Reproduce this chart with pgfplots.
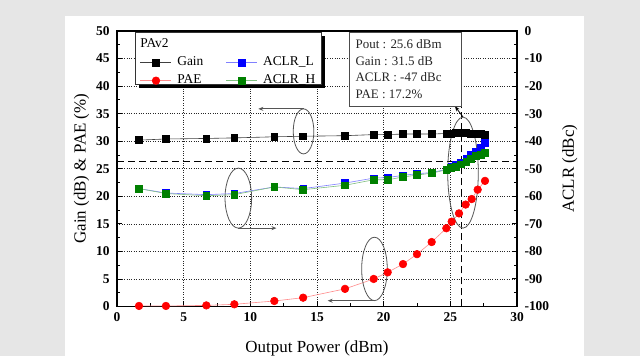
\documentclass[border=0pt]{standalone}
\usepackage{fontspec}
\setmainfont{Liberation Serif}
\usepackage{pgfplots}
\usepackage{pgfplotstable}
\pgfplotsset{compat=1.18}
\usetikzlibrary{arrows.meta}

\definecolor{bggray}{HTML}{E6E6E6}
\definecolor{aclrgreen}{RGB}{0,128,0}
\definecolor{annot}{HTML}{555555}

\pgfplotstableread{
x gain
1.65 30.2
3.67 30.4
6.7 30.5
8.8 30.6
11.8 30.8
13.96 30.9
17.1 31.0
19.25 31.2
20.3 31.2
21.45 31.3
22.5 31.3
23.6 31.3
24.7 31.4
25.06 31.4
25.4 31.5
25.8 31.5
26.2 31.5
26.55 31.4
26.9 31.4
27.3 31.3
27.6 31.2
}\gainT

\pgfplotstableread{
x pae
1.65 0.1
3.67 0.1
6.7 0.2
8.8 0.4
11.8 1.0
13.96 1.6
17.1 3.2
19.25 5.0
20.3 6.2
21.45 7.7
22.5 9.5
23.6 11.7
24.7 14.2
25.1 15.4
25.65 16.9
26.15 18.5
26.6 19.5
27.05 21.2
27.6 22.8
}\paeT

\pgfplotstableread{
x L H
1.65 -57.2 -57.2
3.67 -58.8 -59.0
6.7 -59.4 -59.8
8.8 -59.0 -59.4
11.8 -56.6 -56.6
13.96 -57.2 -57.6
17.1 -55.2 -56.0
19.25 -53.4 -54.0
20.3 -53.2 -54.0
21.45 -52.4 -53.0
22.5 -51.8 -52.3
23.6 -51.4 -51.6
24.7 -50.2 -50.4
25.06 -49.4 -49.8
25.4 -48.6 -49.2
25.8 -47.6 -48.4
26.2 -46.4 -47.4
26.55 -45.0 -46.4
26.9 -43.6 -45.4
27.3 -42.2 -44.8
27.6 -40.6 -44.2
}\aclrT

\pgfplotsset{
  common/.style={
    width=400bp, height=275.5bp, scale only axis,
    at={(117bp,49.5bp)}, anchor=south west,
    xmin=0, xmax=30,
    /pgf/number format/assume math mode=true,
    tick align=inside, major tick length=5bp, minor tick length=3bp,
    tick style={black, line width=0.9bp},
    axis line style={line width=1.6bp},
    ticklabel style={font=\fontsize{13.5}{14}\selectfont\bfseries},
    label style={font=\fontsize{17}{18}\selectfont},
  },
  gainsty/.style={black!75, line width=0.6bp, mark=square*, mark size=3.4bp, mark options={fill=black, draw=black}},
  paesty/.style={red!45, line width=0.6bp, mark=*, mark size=3.8bp, mark options={fill=red, draw=red}},
  lsty/.style={blue!50, line width=0.6bp, mark=square*, mark size=3.3bp, mark options={fill=blue, draw=blue}},
  hsty/.style={aclrgreen!50, line width=0.6bp, mark=square*, mark size=3.4bp, mark options={fill=aclrgreen, draw=aclrgreen}},
}

\begin{document}
\begin{tikzpicture}
\useasboundingbox (0,0) rectangle (640bp,356bp);
\fill[bggray] (0,0) rectangle (640bp,356bp);
\fill[white] (65bp,0) rectangle (584bp,340bp);

\begin{axis}[common,
  ymin=0, ymax=50,
  xtick={0,5,...,30}, ytick={0,5,...,50},
  minor x tick num=1, minor y tick num=1,
  xtick pos=left, ytick pos=left,
  yticklabel style={xshift=-4bp}, xticklabel style={yshift=-3bp},
  grid=major, grid style={dotted, black!85, line width=0.7bp},
  xlabel={Output Power (dBm)},
  xlabel style={yshift=-12bp},
  ylabel={Gain (dB) \& PAE (\%)},
  legend columns=2,
  legend cell align=left,
  legend image code/.code={\draw[mark repeat=2,mark phase=2,#1] plot coordinates {(0bp,0bp) (15.5bp,0bp) (31bp,0bp)};},
  legend style={draw=none, fill=none, at={(axis description cs:0.0575,0.913)}, anchor=north west,
    inner sep=0pt, row sep=3bp, font=\fontsize{13.5}{14}\selectfont,
    nodes={inner sep=1.5bp, text height=9bp, text depth=3bp},
    /tikz/every odd column/.append style={column sep=4bp},
    /tikz/every even column/.append style={column sep=21bp}},
]
% dashed reference lines
\addplot[black, line width=1.5bp, dash pattern=on 7bp off 4bp, forget plot] coordinates {(0,26.3) (30,26.3)};
\addplot[black, line width=1.5bp, dash pattern=on 7bp off 4bp, forget plot] coordinates {(25.84,0) (25.84,50)};

\addplot[gainsty, forget plot] table[x=x, y=gain] {\gainT};
\addplot[paesty, forget plot] table[x=x, y=pae] {\paeT};

% annotations
\draw[annot, line width=0.8bp] (axis cs:13.99,31.78) ellipse [x radius=10.3bp, y radius=22.5bp];
\draw[annot, line width=0.8bp, -{Stealth[length=5bp,width=4bp]}] (axis cs:13.99,35.87) -- (axis cs:10.6,35.87);
\draw[annot, line width=0.8bp] (axis cs:9.1,19.67) ellipse [x radius=13.3bp, y radius=30bp];
\draw[annot, line width=0.8bp, -{Stealth[length=5bp,width=4bp]}] (axis cs:9.1,14.22) -- (axis cs:11.96,14.22);
\draw[annot, line width=0.8bp] (axis cs:19.31,6.82) ellipse [x radius=12.8bp, y radius=31.7bp];
\draw[annot, line width=0.8bp, -{Stealth[length=5bp,width=4bp]}] (axis cs:19.31,1.05) -- (axis cs:15.8,1.05);
\draw[annot, line width=0.8bp] (axis cs:25.95,24.3) ellipse [x radius=15.3bp, y radius=55.5bp];
\draw[black, line width=0.8bp, -{Stealth[length=5bp,width=4bp]}] (axis cs:25.95,34.4) -- (axis cs:25.35,36.33);

% info box
\draw[black!70, fill=white, line width=0.8bp] (axis cs:17.4,36.3) rectangle (axis cs:25.85,49.8);
\node[anchor=north west, inner sep=0pt, align=left, font=\fontsize{13}{16.5}\selectfont, text=black!85]
  at (axis cs:17.88,48.45) {Pout : 25.6 dBm\\Gain : 31.5 dB\\ACLR : -47 dBc\\PAE : 17.2\%};

% legend box
\fill[black] ([xshift=3.5bp,yshift=-3.5bp]axis cs:1.35,40.22) rectangle ([xshift=3.5bp,yshift=-3.5bp]axis cs:15.35,49.73);
\draw[black!80, fill=white, line width=0.8bp] (axis cs:1.35,40.22) rectangle (axis cs:15.35,49.73);
\node[anchor=base west, inner sep=0pt, font=\fontsize{13.5}{14}\selectfont] at (axis cs:1.73,46.98) {PAv2};

\addlegendimage{gainsty}\addlegendentry{Gain}
\addlegendimage{lsty}\addlegendentry{ACLR\_L}
\addlegendimage{paesty}\addlegendentry{PAE}
\addlegendimage{hsty}\addlegendentry{ACLR\_H}
\end{axis}

\begin{axis}[common,
  ymin=-100, ymax=0,
  axis y line*=right, axis x line=none,
  ytick={-100,-90,...,0}, minor y tick num=1,
  yticklabel style={xshift=4bp},
  ylabel={ACLR (dBc)},
  ylabel style={xshift=0bp, yshift=-6bp},
]
\addplot[lsty] table[x=x, y=L] {\aclrT};
\addplot[hsty] table[x=x, y=H] {\aclrT};
\end{axis}
\end{tikzpicture}
\end{document}
